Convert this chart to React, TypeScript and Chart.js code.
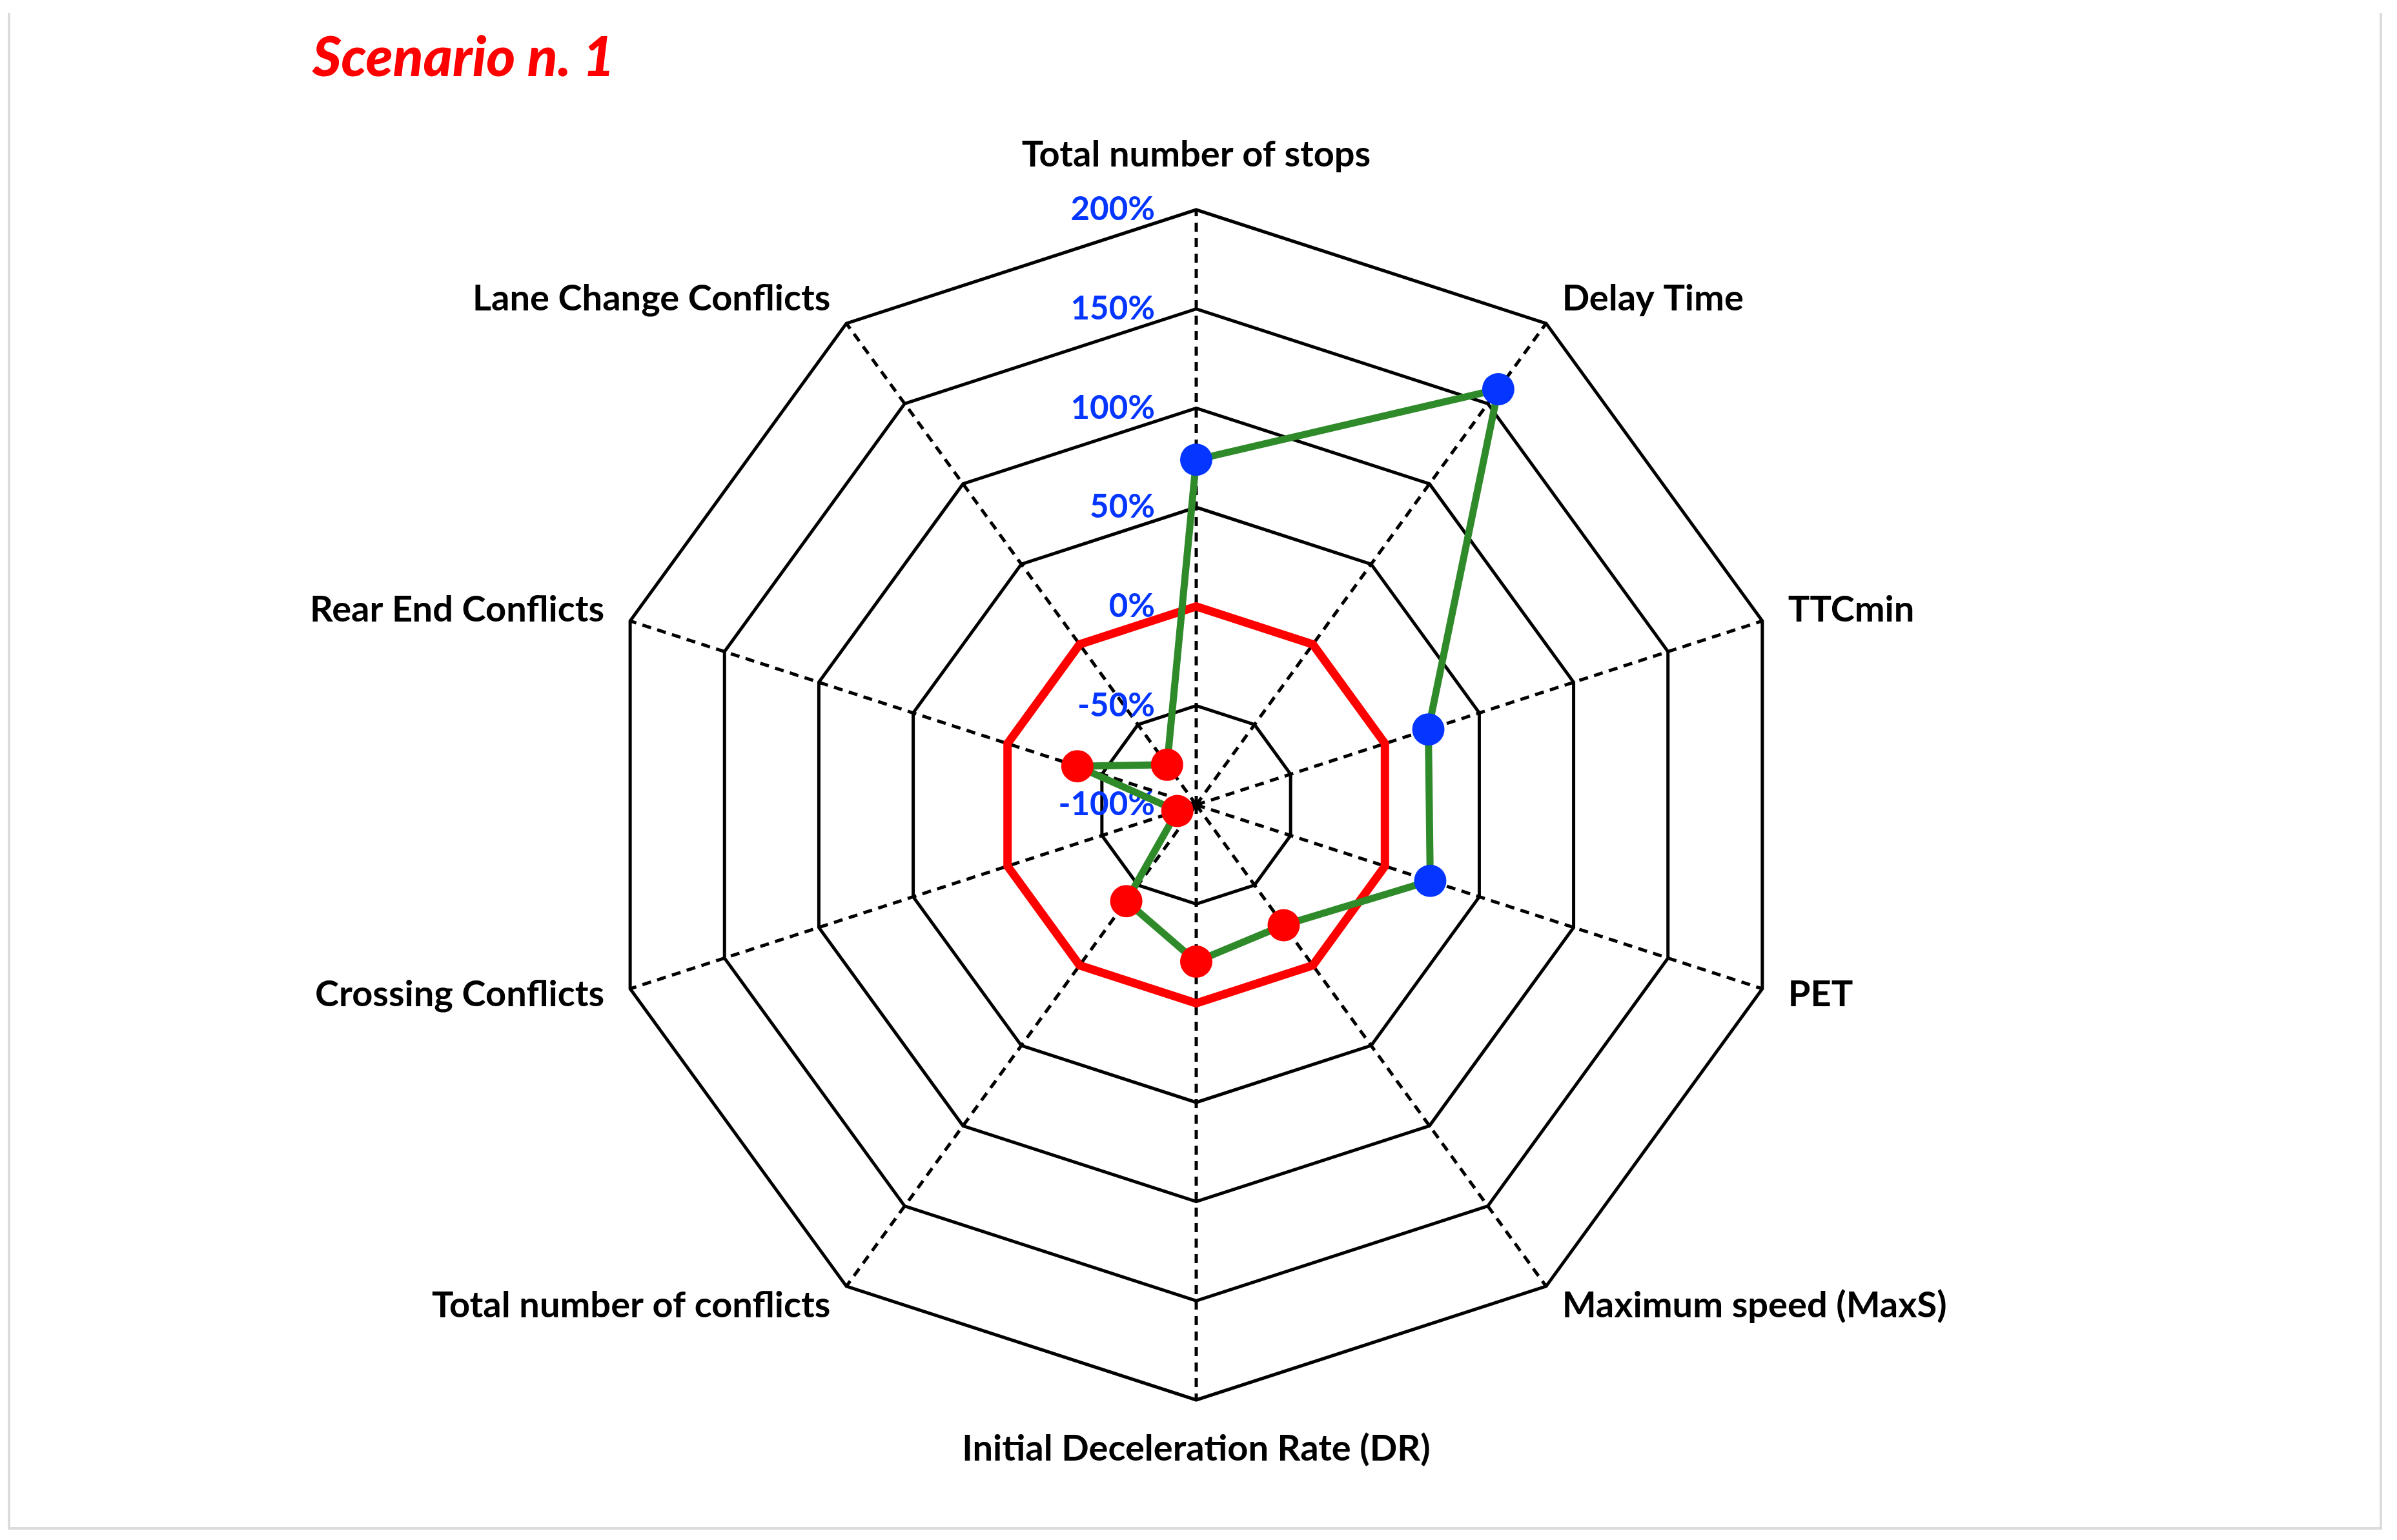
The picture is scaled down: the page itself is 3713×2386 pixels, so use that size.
import React, { useEffect, useRef } from "react";
import { Chart, registerables } from "chart.js";

Chart.register(...registerables);

const categories = [
  "Total number of stops",
  "Delay Time",
  "TTCmin",
  "PET",
  "Maximum speed (MaxS)",
  "Initial Deceleration Rate (DR)",
  "Total number of conflicts",
  "Crossing Conflicts",
  "Rear End Conflicts",
  "Lane Change Conflicts",
];

const scenarioValues = [74, 159, 23, 24, -25, -21, -40, -90, -37, -75];
const baselineValues = [0, 0, 0, 0, 0, 0, 0, 0, 0, 0];

const tickMin = -100;
const tickMax = 200;
const tickStep = 50;

const titleText = "Scenario n. 1";

const W = 3713;
const H = 2386;

const labelPlugin = {
  id: "customLabels",
  beforeDatasetsDraw(chart: any) {
    const scale = chart.scales.r;
    const ctx = chart.ctx;
    ctx.save();
    ctx.font = "bold 51px Lato";
    ctx.fillStyle = "#0536FF";
    ctx.textAlign = "right";
    ctx.textBaseline = "middle";
    scale.ticks.forEach((t: any) => {
      const d = scale.getDistanceFromCenterForValue(t.value);
      ctx.fillText(t.label, scale.xCenter - 64, scale.yCenter - d);
    });
    ctx.restore();
  },
  afterDraw(chart: any) {
    const scale = chart.scales.r;
    const ctx = chart.ctx;
    const R = scale.drawingArea;
    const n = chart.data.labels.length;
    ctx.save();
    ctx.font = "bold 56px Lato";
    ctx.fillStyle = "#000000";
    ctx.textBaseline = "middle";
    chart.data.labels.forEach((lab: string, i: number) => {
      let off = 42;
      let align: CanvasTextAlign = "center";
      let dy = -4;
      if (i === 0) {
        off = 85;
        dy = 0;
      } else if (i === n / 2) {
        off = 76;
        dy = 0;
      } else if (i < n / 2) {
        align = "left";
      } else {
        align = "right";
      }
      const p = scale.getPointPosition(i, R + off);
      ctx.textAlign = align;
      ctx.fillText(lab, p.x, p.y + dy);
    });
    // title
    ctx.font = "italic 900 86px Lato";
    ctx.fillStyle = "#FF0000";
    ctx.textAlign = "left";
    ctx.textBaseline = "alphabetic";
    ctx.fillText(titleText, 484, 118);
    ctx.restore();
  },
};

export default function App() {
  const ref = useRef<HTMLCanvasElement>(null);

  useEffect(() => {
    if (!ref.current) return;
    const pointColors = scenarioValues.map((v) => (v >= 0 ? "#0536FF" : "#FF0000"));
    const chart = new Chart(ref.current, {
      type: "radar",
      data: {
        labels: categories,
        datasets: [
          {
            label: "Scenario",
            data: scenarioValues,
            borderColor: "#2F8A2A",
            borderWidth: 11,
            backgroundColor: "rgba(0,0,0,0)",
            fill: false,
            pointRadius: 25,
            pointBorderWidth: 0,
            pointBackgroundColor: pointColors,
            pointBorderColor: pointColors,
            tension: 0,
          },
          {
            label: "Baseline",
            data: baselineValues,
            borderColor: "#FF0000",
            borderWidth: 13,
            backgroundColor: "rgba(0,0,0,0)",
            fill: false,
            pointRadius: 0,
            tension: 0,
          },
        ],
      },
      options: {
        responsive: false,
        animation: false,
        layout: { padding: { left: 931, right: 938, top: 325, bottom: 217 } },
        plugins: {
          legend: { display: false },
          tooltip: { enabled: false },
          title: { display: false },
        },
        scales: {
          r: {
            min: tickMin,
            max: tickMax,
            beginAtZero: false,
            ticks: {
              stepSize: tickStep,
              display: false,
              callback: (v: any) => v + "%",
            },
            grid: { color: "#000000", lineWidth: 5, circular: false },
            angleLines: {
              color: "#000000",
              lineWidth: 5,
              borderDash: [14, 10],
            },
            pointLabels: { display: false },
          },
        },
      },
      plugins: [labelPlugin],
    });
    return () => chart.destroy();
  }, []);

  return (
    <div style={{ position: "fixed", left: 0, top: 0, width: W, height: H, background: "#ffffff" }}>
      <div
        style={{
          position: "absolute",
          left: 12,
          top: 20,
          width: 3690 - 12,
          height: 2370 - 20,
          boxSizing: "border-box",
          borderLeft: "4px solid #dcdcdc",
          borderRight: "4px solid #dcdcdc",
          borderBottom: "4px solid #dcdcdc",
        }}
      />
      <canvas
        ref={ref}
        width={W}
        height={H}
        style={{ position: "absolute", left: 0, top: 0, width: W, height: H, display: "block" }}
      />
    </div>
  );
}
